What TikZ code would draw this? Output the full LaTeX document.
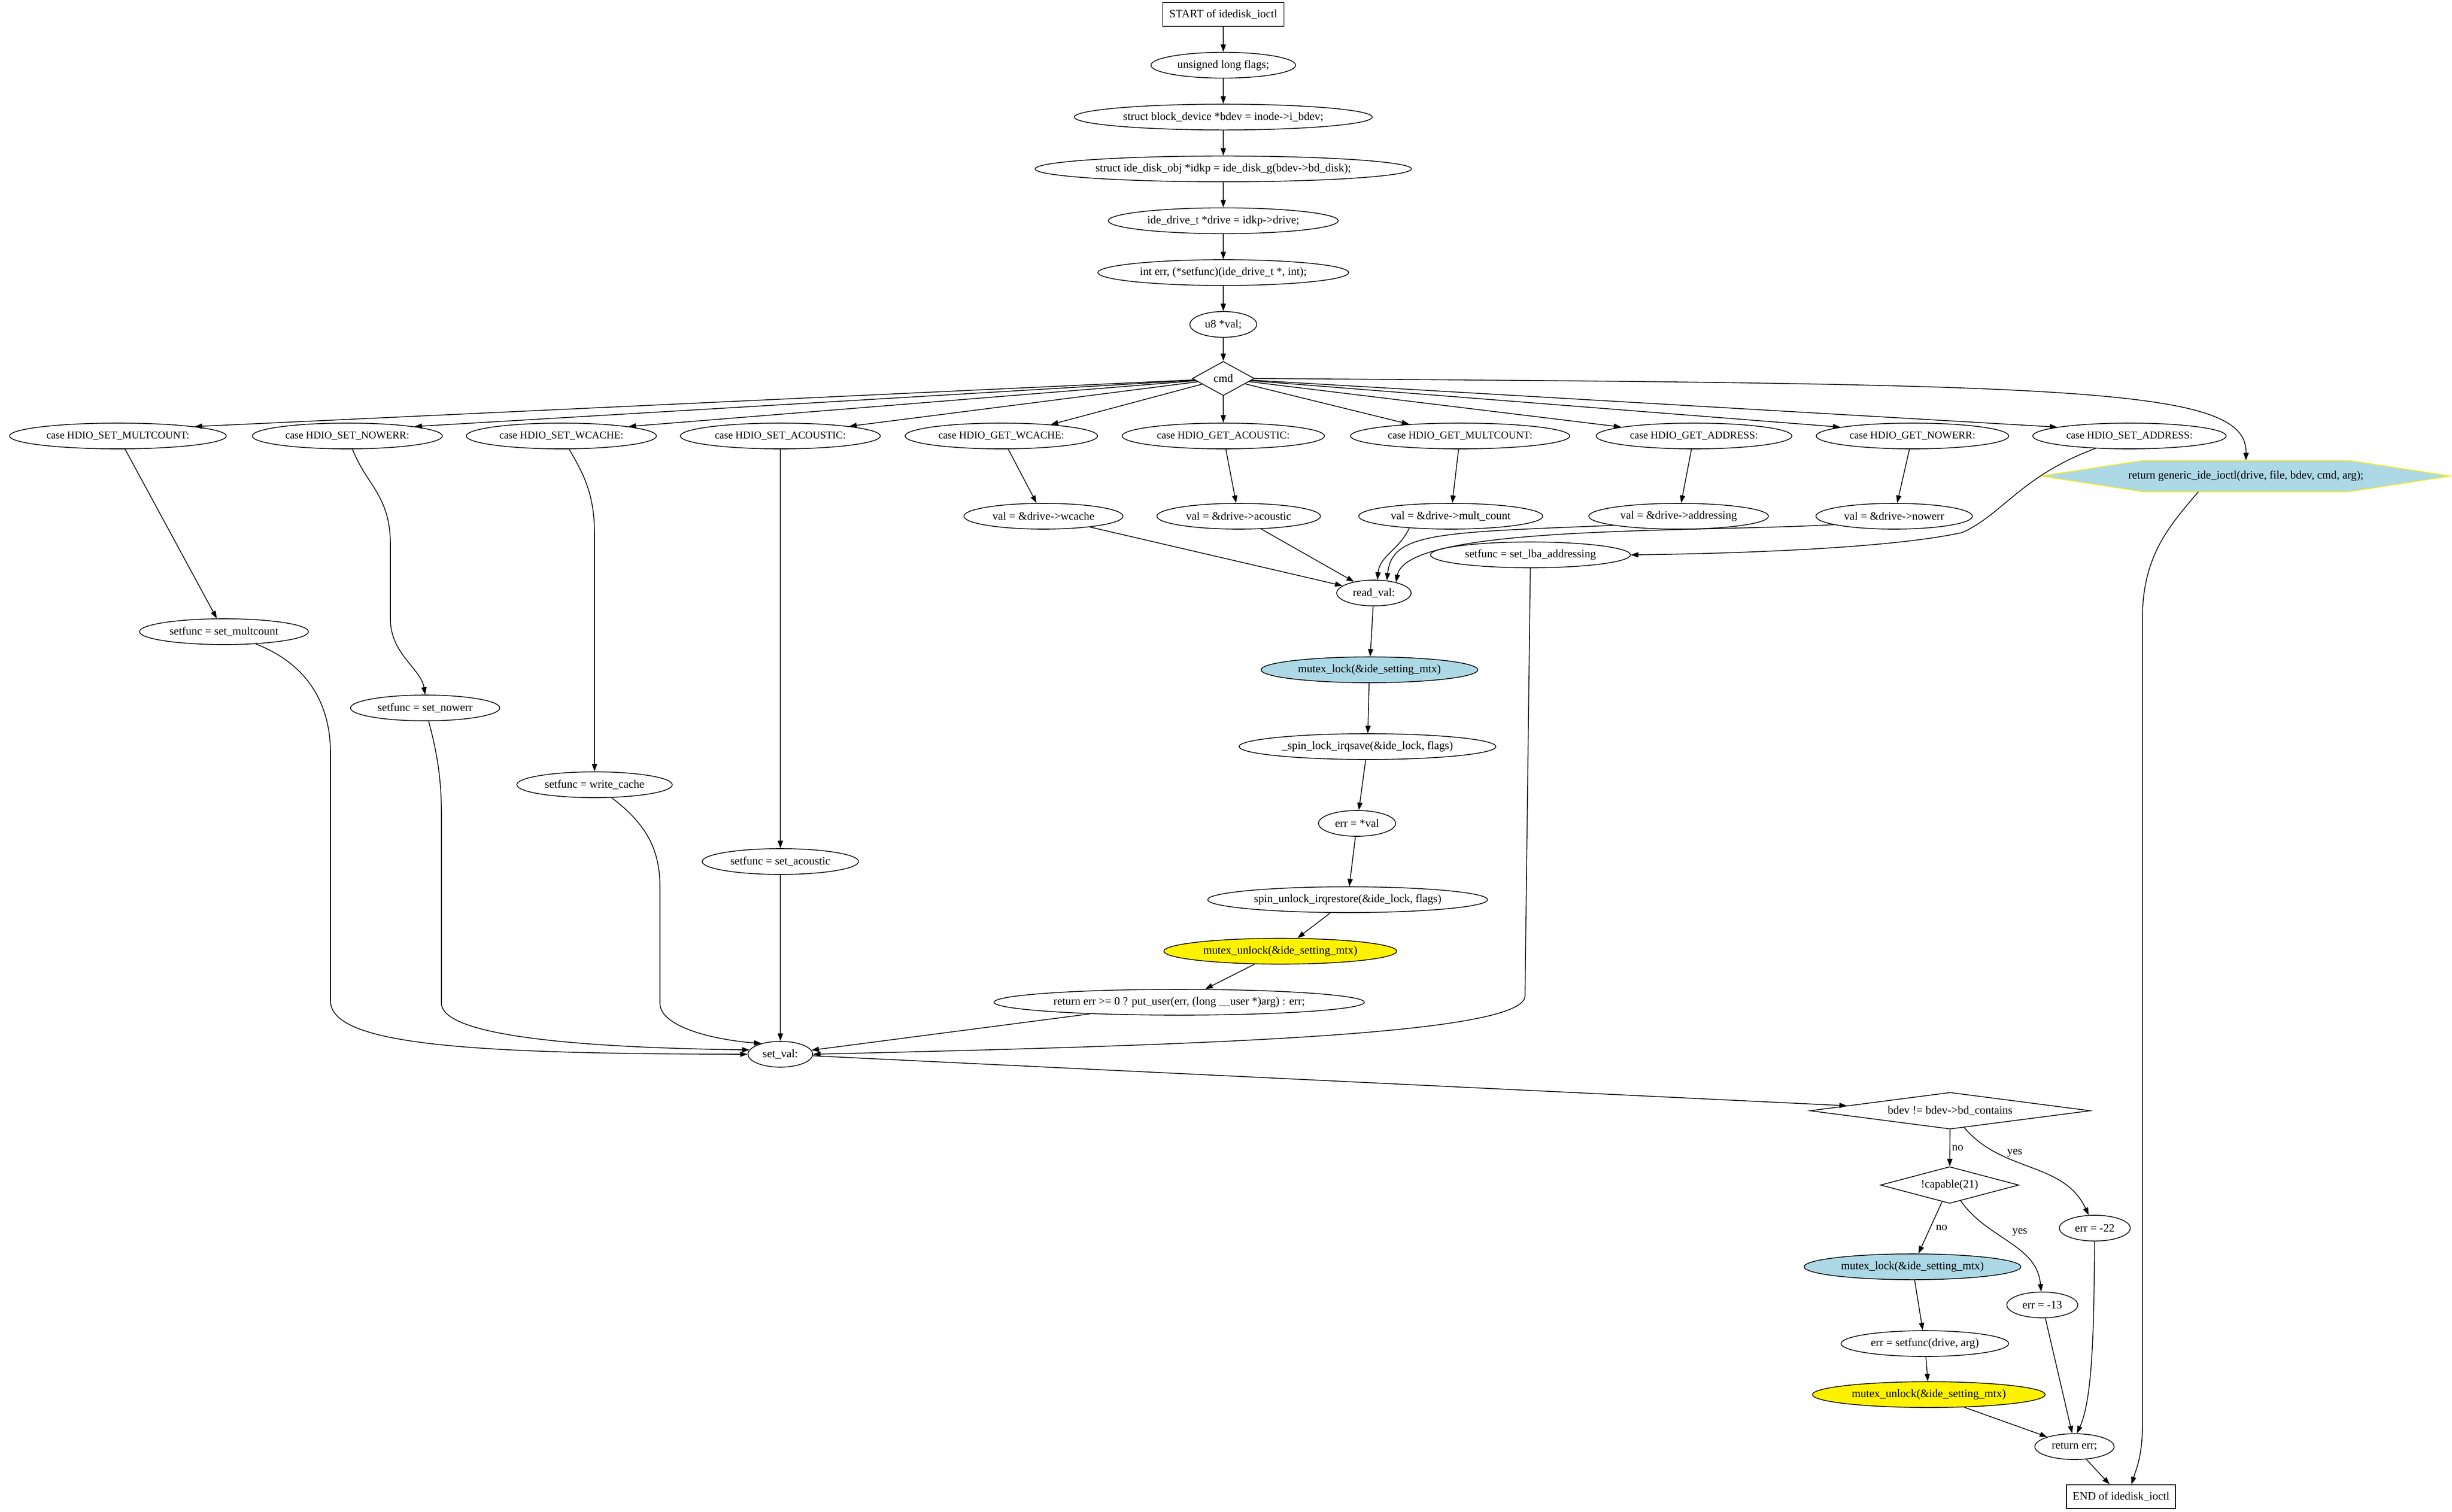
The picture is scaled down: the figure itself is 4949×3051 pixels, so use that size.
\documentclass[tikz,border=0pt]{standalone}
\usepackage{fontspec}
\setmainfont{Liberation Serif}
\usetikzlibrary{arrows.meta, positioning, shapes.geometric, backgrounds}

\definecolor{lightblue}{RGB}{173,216,230}

\begin{document}
\begin{tikzpicture}[
    x=0.01cm, y=-0.01cm,
    node distance=0.51cm,
    font=\fontsize{6.5}{7.8}\selectfont,
    stmt/.style={
        ellipse,
        draw,
        line width=0.45pt,
        minimum height=0.52cm,
        inner xsep=3pt,
        inner ysep=1pt,
    },
    casenode/.style={
        stmt,
        font=\fontsize{6}{7.2}\selectfont,
    },
    cond/.style={
        diamond,
        draw,
        line width=0.45pt,
        inner sep=0pt,
    },
    term/.style={
        rectangle,
        draw,
        line width=0.45pt,
        minimum height=0.48cm,
        inner xsep=2pt,
    },
    lockstmt/.style={stmt, fill=lightblue},
    unlockstmt/.style={stmt, fill=yellow},
    flow/.style={
        line width=0.45pt,
        -{Triangle[length=4.3pt, width=3pt]},
    },
    branch/.style={
        inner sep=1pt,
    }
]
    \useasboundingbox (0,0) rectangle (4949,3051);

    % Entry and declarations
    \node[term, minimum width=2.45cm] (start) at (2469,29) {START of idedisk\_ioctl};
    \node[stmt, below=of start] (flags) {unsigned long flags;};
    \node[stmt, below=of flags] (bdev) {struct block\_device *bdev = inode->i\_bdev;};
    \node[stmt, below=of bdev] (idkp) {struct ide\_disk\_obj *idkp = ide\_disk\_g(bdev->bd\_disk);};
    \node[stmt, below=of idkp] (drive) {ide\_drive\_t *drive = idkp->drive;};
    \node[stmt, below=of drive] (errdecl) {int err, (*setfunc)(ide\_drive\_t *, int);};
    \node[stmt, below=of errdecl] (valdecl) {u8 *val;};
    \node[cond, aspect=1.8, minimum width=1.25cm, minimum height=0.69cm, below=0.47cm of valdecl] (cmd) {cmd};

    % Switch cases
    \node[casenode] (smc) at (238,880) {case HDIO\_SET\_MULTCOUNT:};
    \node[casenode] (snw) at (701,880) {case HDIO\_SET\_NOWERR:};
    \node[casenode] (swc) at (1133,880) {case HDIO\_SET\_WCACHE:};
    \node[casenode] (sac) at (1575,880) {case HDIO\_SET\_ACOUSTIC:};
    \node[casenode] (gwc) at (2021,880) {case HDIO\_GET\_WCACHE:};
    \node[casenode] (gac) at (2469,880) {case HDIO\_GET\_ACOUSTIC:};
    \node[casenode] (gmc) at (2947,880) {case HDIO\_GET\_MULTCOUNT:};
    \node[casenode] (gad) at (3419,880) {case HDIO\_GET\_ADDRESS:};
    \node[casenode] (gnw) at (3860,880) {case HDIO\_GET\_NOWERR:};
    \node[casenode] (sad) at (4298,880) {case HDIO\_SET\_ADDRESS:};
    \node[rectangle, minimum width=8.27cm, minimum height=0.62cm, inner sep=0pt] (gen) at (4533,961) {return generic\_ide\_ioctl(drive, file, bdev, cmd, arg);};
    \begin{scope}[on background layer]
        \draw[draw=yellow, fill=lightblue, line width=0.45pt] (gen.west) -- ([xshift=2.07cm]gen.north west) -- ([xshift=-2.07cm]gen.north east) -- (gen.east) -- ([xshift=-2.07cm]gen.south east) -- ([xshift=2.07cm]gen.south west) -- cycle;
    \end{scope}

    % Get branch
    \node[stmt] (vwc) at (2106,1042) {val = \&drive->wcache};
    \node[stmt] (vac) at (2500,1042) {val = \&drive->acoustic};
    \node[stmt] (vmc) at (2928,1042) {val = \&drive->mult\_count};
    \node[stmt] (vad) at (3388,1042) {val = \&drive->addressing};
    \node[stmt] (vnw) at (3823,1042) {val = \&drive->nowerr};
    \node[stmt] (lba) at (3089,1120) {setfunc = set\_lba\_addressing};
    \node[stmt] (rval) at (2773,1197) {read\_val:};
    \node[lockstmt] (mlock) at (2764,1352) {mutex\_lock(\&ide\_setting\_mtx)};
    \node[stmt] (spinl) at (2760,1507) {\_spin\_lock\_irqsave(\&ide\_lock, flags)};
    \node[stmt] (eval) at (2739,1662) {err = *val};
    \node[stmt] (spinu) at (2720,1816) {spin\_unlock\_irqrestore(\&ide\_lock, flags)};
    \node[unlockstmt] (munlock) at (2584,1920) {mutex\_unlock(\&ide\_setting\_mtx)};
    \node[stmt] (retval) at (2380,2023) {return err >= 0 ? put\_user(err, (long \_\_user *)arg) : err;};

    % Set branch
    \node[stmt] (fmc) at (452,1275) {setfunc = set\_multcount};
    \node[stmt] (fnw) at (858,1429) {setfunc = set\_nowerr};
    \node[stmt] (fwc) at (1200,1584) {setfunc = write\_cache};
    \node[stmt] (fac) at (1575,1739) {setfunc = set\_acoustic};
    \node[stmt] (setval) at (1575,2128) {set\_val:};
    \node[cond, aspect=7.65, minimum width=5.66cm, minimum height=0.74cm] (bdchk) at (3936,2242) {bdev != bdev->bd\_contains};
    \node[cond, aspect=3.77, minimum width=2.79cm, minimum height=0.74cm] (capchk) at (3935,2392) {!capable(21)};
    \node[lockstmt] (mlock2) at (3860,2557) {mutex\_lock(\&ide\_setting\_mtx)};
    \node[stmt] (e22) at (4228,2479) {err = -22};
    \node[stmt] (e13) at (4122,2634) {err = -13};
    \node[stmt] (esf) at (3885,2712) {err = setfunc(drive, arg)};
    \node[unlockstmt] (munlock2) at (3893,2815) {mutex\_unlock(\&ide\_setting\_mtx)};
    \node[stmt] (reterr) at (4187,2920) {return err;};
    \node[term, minimum width=2.2cm] (endn) at (4281,3021) {END of idedisk\_ioctl};

    % Declarations chain
    \draw[flow] (start) -- (flags);
    \draw[flow] (flags) -- (bdev);
    \draw[flow] (bdev) -- (idkp);
    \draw[flow] (idkp) -- (drive);
    \draw[flow] (drive) -- (errdecl);
    \draw[flow] (errdecl) -- (valdecl);
    \draw[flow] (valdecl) -- (cmd);

    % Switch
    \foreach \n/\a in {smc/7, snw/8, swc/8, sac/8, gwc/13, gac/90, gmc/167, gad/173, gnw/173, sad/173}
        \draw[flow] (cmd) -- (\n.\a);
    \draw[flow] (cmd.east) .. controls (4200,775) and (4536,780) .. (gen.north);

    % Cases
    \draw[flow] (smc) -- (fmc);
    \draw[flow] (snw) .. controls (740,980) and (788,1000) .. (788,1100) -- (788,1250) .. controls (788,1320) and (850,1350) .. (fnw.north);
    \draw[flow] (swc) .. controls (1180,960) and (1200,1000) .. (1200,1080) -- (fwc.north);
    \draw[flow] (sac) -- (fac);
    \draw[flow] (gwc) -- (vwc);
    \draw[flow] (gac) -- (vac);
    \draw[flow] (gmc) -- (vmc);
    \draw[flow] (gad) -- (vad);
    \draw[flow] (gnw) -- (vnw);
    \draw[flow] (sad) .. controls (4080,960) and (4040,1040) .. (3960,1075) .. controls (3800,1110) and (3450,1118) .. (lba.east);

    % Read value
    \draw[flow] (vwc) -- (rval);
    \draw[flow] (vac) -- (rval);
    \draw[flow] (vmc.-164) to[out=-115, in=85] (rval.75);
    \draw[flow] (vad.-172) .. controls (2900,1075) and (2810,1075) .. (rval.44);
    \draw[flow] (vnw.-172) .. controls (3400,1075) and (2840,1060) .. (rval.26);
    \draw[flow] (rval) -- (mlock);
    \draw[flow] (mlock) -- (spinl);
    \draw[flow] (spinl) -- (eval);
    \draw[flow] (eval) -- (spinu);
    \draw[flow] (spinu) -- (munlock);
    \draw[flow] (munlock) -- (retval);
    \draw[flow] (retval) -- (setval);

    % Set value
    \draw[flow] (fmc) .. controls (620,1340) and (667,1420) .. (667,1520) -- (667,2020) .. controls (667,2110) and (950,2127) .. (setval.west);
    \draw[flow] (fnw) .. controls (885,1530) and (891,1580) .. (891,1650) -- (891,2025) .. controls (891,2095) and (1200,2115) .. (setval.172);
    \draw[flow] (fwc) .. controls (1300,1660) and (1332,1710) .. (1332,1790) -- (1332,2025) .. controls (1332,2075) and (1450,2100) .. (setval.150);
    \draw[flow] (fac) -- (setval);
    \draw[flow] (lba) -- (3078,2010) .. controls (3078,2090) and (2400,2110) .. (setval.east);
    \draw[flow] (setval) -- (bdchk);

    % Checks
    \draw[flow] (bdchk) -- node[branch, right] {no} (capchk);
    \draw[flow] (bdchk) to[out=-50, in=115] node[branch, pos=0.25, right=5pt] {yes} (e22);
    \draw[flow] (capchk) -- node[branch, right=2pt] {no} (mlock2);
    \draw[flow] (capchk) to[out=-55, in=95] node[branch, pos=0.35, right=9pt] {yes} (e13);
    \draw[flow] (mlock2) -- (esf);
    \draw[flow] (esf) -- (munlock2);
    \draw[flow] (munlock2) -- (reterr);
    \draw[flow] (e13) -- (reterr.100);
    \draw[flow] (e22) .. controls (4226,2650) and (4226,2820) .. (reterr.80);
    \draw[flow] (reterr) -- (endn);
    \draw[flow] ([xshift=-0.96cm]gen.south) .. controls (4380,1060) and (4324,1120) .. (4324,1250) -- (4324,2880) .. controls (4324,2940) and (4310,2970) .. ([xshift=0.21cm]endn.north);
\end{tikzpicture}
\end{document}
